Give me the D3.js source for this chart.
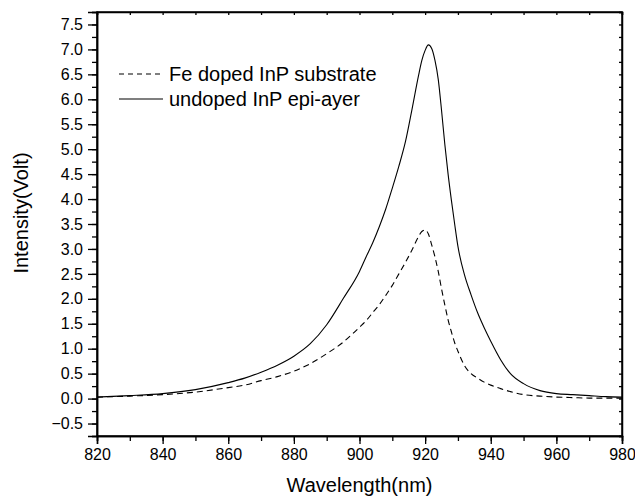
<!DOCTYPE html>
<html>
<head>
<meta charset="utf-8">
<title>InP intensity vs wavelength</title>
<style>
  body { margin: 0; background: #fff; }
  svg { font-family: "Liberation Sans", Arial, sans-serif; }
  .axis path, .axis line { stroke: #000; }
  .axis text { font-size: 16px; fill: #000; }
</style>
<script src="https://d3js.org/d3.v7.min.js"></script>
</head>
<body>
<script>
// wavelength grid (nm)
var wavelength = [820, 830, 840, 850, 860, 865, 870, 875, 880, 885, 890, 895, 900, 902, 904, 906, 908,
  910, 912, 914, 916, 918, 919, 920, 921, 922, 923, 924, 925, 926, 927, 928, 929, 930, 932, 934,
  936, 938, 940, 943, 946, 950, 955, 960, 965, 970, 975, 980];
// undoped InP epi-layer (solid)
var undoped = [0.03, 0.06, 0.10, 0.18, 0.32, 0.41, 0.53, 0.67, 0.85, 1.10, 1.48, 2.00, 2.55, 2.84, 3.12,
  3.44, 3.80, 4.22, 4.66, 5.15, 5.80, 6.48, 6.78, 6.98, 7.09, 7.02, 6.78, 6.40, 5.78, 5.10, 4.50,
  3.98, 3.50, 3.05, 2.48, 2.08, 1.72, 1.42, 1.15, 0.78, 0.50, 0.30, 0.16, 0.10, 0.08, 0.06, 0.04, 0.03];
// Fe doped InP substrate (dashed)
var feDoped = [0.03, 0.05, 0.08, 0.13, 0.22, 0.27, 0.36, 0.44, 0.55, 0.70, 0.90, 1.13, 1.43, 1.56, 1.72,
  1.88, 2.07, 2.27, 2.50, 2.73, 2.98, 3.25, 3.35, 3.38, 3.30, 3.08, 2.84, 2.55, 2.20, 1.88, 1.58,
  1.34, 1.12, 0.95, 0.66, 0.50, 0.41, 0.33, 0.27, 0.20, 0.14, 0.08, 0.05, 0.03, 0.02, 0.01, 0.01, 0.01];
var seriesNames = ["Fe doped InP substrate", "undoped InP epi-ayer"];
var xTicks = [820, 840, 860, 880, 900, 920, 940, 960, 980];
var yTicks = [-0.5, 0, 0.5, 1, 1.5, 2, 2.5, 3, 3.5, 4, 4.5, 5, 5.5, 6, 6.5, 7, 7.5];

var W = 635, H = 497;
var margin = {top: 12, right: 13, bottom: 61, left: 97};
var width = W - margin.left - margin.right,
    height = H - margin.top - margin.bottom;

var svg = d3.select("body").append("svg")
  .attr("width", W).attr("height", H);
var g = svg.append("g")
  .attr("transform", "translate(" + margin.left + "," + margin.top + ")");

var x = d3.scaleLinear().domain([820, 980]).range([0, width]);
var y = d3.scaleLinear().domain([-0.75, 7.75]).range([height, 0]);

var minorX = d3.range(820, 981, 10);
var minorY = d3.range(-0.75, 7.76, 0.25);

// minor ticks
g.append("g").attr("class", "axis")
  .attr("transform", "translate(0," + height + ")")
  .call(d3.axisBottom(x).tickValues(minorX).tickSize(5).tickFormat(""));
g.append("g").attr("class", "axis")
  .call(d3.axisLeft(y).tickValues(minorY).tickSize(5).tickFormat(""));
g.append("g").attr("class", "axis")
  .call(d3.axisTop(x).tickValues(minorX).tickSize(-3).tickFormat(""));
g.append("g").attr("class", "axis")
  .attr("transform", "translate(" + width + ",0)")
  .call(d3.axisRight(y).tickValues(minorY).tickSize(-3).tickFormat(""));

// major ticks with labels
g.append("g").attr("class", "axis")
  .attr("transform", "translate(0," + height + ")")
  .call(d3.axisBottom(x).tickValues(xTicks).tickSize(8).tickPadding(5).tickFormat(d3.format("d")));
g.append("g").attr("class", "axis")
  .call(d3.axisLeft(y).tickValues(yTicks).tickSize(9).tickPadding(5).tickFormat(d3.format(".1f")));

g.selectAll(".axis path").attr("stroke-width", 1.5);
g.selectAll(".axis line").attr("stroke-width", 1.3);

// frame
g.append("rect")
  .attr("width", width).attr("height", height)
  .attr("fill", "none").attr("stroke", "#000").attr("stroke-width", 1.5);

var line = d3.line()
  .x(function (d) { return x(d[0]); })
  .y(function (d) { return y(d[1]); })
  .curve(d3.curveMonotoneX);

g.append("path")
  .datum(wavelength.map(function (w, i) { return [w, feDoped[i]]; }))
  .attr("d", line)
  .attr("fill", "none").attr("stroke", "#000").attr("stroke-width", 1.1)
  .attr("stroke-dasharray", "6,4");

g.append("path")
  .datum(wavelength.map(function (w, i) { return [w, undoped[i]]; }))
  .attr("d", line)
  .attr("fill", "none").attr("stroke", "#000").attr("stroke-width", 1.1);

// legend
var legend = svg.append("g").attr("transform", "translate(119,74)");
seriesNames.forEach(function (name, i) {
  var row = legend.append("g").attr("transform", "translate(0," + (i * 25) + ")");
  row.append("line")
    .attr("x1", 0).attr("x2", 44).attr("y1", 0).attr("y2", 0)
    .attr("stroke", "#000").attr("stroke-width", 1.1)
    .attr("stroke-dasharray", i === 0 ? "5,4" : null);
  row.append("text")
    .attr("x", 50).attr("y", 7)
    .attr("font-size", 20)
    .text(name);
});

// axis titles
svg.append("text")
  .attr("x", margin.left + width / 2).attr("y", 492)
  .attr("text-anchor", "middle").attr("font-size", 20)
  .text("Wavelength(nm)");
svg.append("text")
  .attr("transform", "translate(28,213) rotate(-90)")
  .attr("text-anchor", "middle").attr("font-size", 20)
  .text("Intensity(Volt)");
</script>
</body>
</html>
